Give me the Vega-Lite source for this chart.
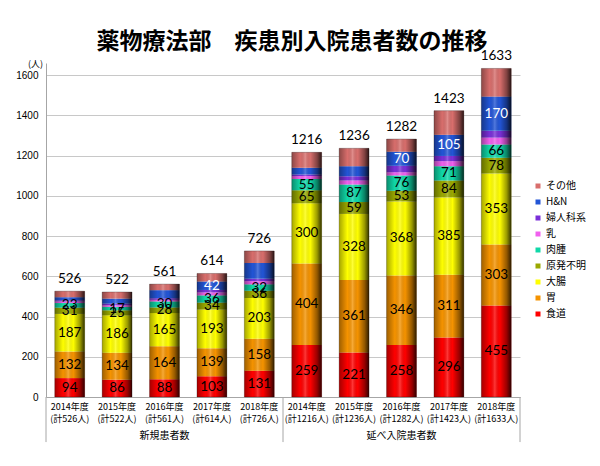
{
  "$schema": "https://vega.github.io/schema/vega-lite/v6.json",
  "autosize": "none",
  "width": 474,
  "height": 334,
  "padding": {"left": 46, "top": 63, "right": 80, "bottom": 69},
  "background": "white",
  "title": {"text": "薬物療法部　疾患別入院患者数の推移", "font": "Noto Sans CJK JP", "fontSize": 23, "fontWeight": "bold", "anchor": "middle", "dx": 9, "offset": -5, "color": "black"},
  "config": {"view": {"stroke": null}, "font": "Noto Sans CJK JP"},
  "data": {"values": [
    {"cat": "2014年度|(計526人)", "s": "食道", "o": 1, "v": 94, "lab": true},
    {"cat": "2014年度|(計526人)", "s": "胃", "o": 2, "v": 132, "lab": true},
    {"cat": "2014年度|(計526人)", "s": "大腸", "o": 3, "v": 187, "lab": true},
    {"cat": "2014年度|(計526人)", "s": "原発不明", "o": 4, "v": 31, "lab": true},
    {"cat": "2014年度|(計526人)", "s": "肉腫", "o": 5, "v": 23, "lab": true},
    {"cat": "2014年度|(計526人)", "s": "乳", "o": 6, "v": 8, "lab": false},
    {"cat": "2014年度|(計526人)", "s": "婦人科系", "o": 7, "v": 6, "lab": false},
    {"cat": "2014年度|(計526人)", "s": "H&N", "o": 8, "v": 15, "lab": false},
    {"cat": "2014年度|(計526人)", "s": "その他", "o": 9, "v": 30, "lab": false},
    {"cat": "2015年度|(計522人)", "s": "食道", "o": 1, "v": 86, "lab": true},
    {"cat": "2015年度|(計522人)", "s": "胃", "o": 2, "v": 134, "lab": true},
    {"cat": "2015年度|(計522人)", "s": "大腸", "o": 3, "v": 186, "lab": true},
    {"cat": "2015年度|(計522人)", "s": "原発不明", "o": 4, "v": 25, "lab": true},
    {"cat": "2015年度|(計522人)", "s": "肉腫", "o": 5, "v": 17, "lab": true},
    {"cat": "2015年度|(計522人)", "s": "乳", "o": 6, "v": 8, "lab": false},
    {"cat": "2015年度|(計522人)", "s": "婦人科系", "o": 7, "v": 8, "lab": false},
    {"cat": "2015年度|(計522人)", "s": "H&N", "o": 8, "v": 25, "lab": false},
    {"cat": "2015年度|(計522人)", "s": "その他", "o": 9, "v": 33, "lab": false},
    {"cat": "2016年度|(計561人)", "s": "食道", "o": 1, "v": 88, "lab": true},
    {"cat": "2016年度|(計561人)", "s": "胃", "o": 2, "v": 164, "lab": true},
    {"cat": "2016年度|(計561人)", "s": "大腸", "o": 3, "v": 165, "lab": true},
    {"cat": "2016年度|(計561人)", "s": "原発不明", "o": 4, "v": 28, "lab": true},
    {"cat": "2016年度|(計561人)", "s": "肉腫", "o": 5, "v": 30, "lab": true},
    {"cat": "2016年度|(計561人)", "s": "乳", "o": 6, "v": 8, "lab": false},
    {"cat": "2016年度|(計561人)", "s": "婦人科系", "o": 7, "v": 8, "lab": false},
    {"cat": "2016年度|(計561人)", "s": "H&N", "o": 8, "v": 40, "lab": false},
    {"cat": "2016年度|(計561人)", "s": "その他", "o": 9, "v": 30, "lab": false},
    {"cat": "2017年度|(計614人)", "s": "食道", "o": 1, "v": 103, "lab": true},
    {"cat": "2017年度|(計614人)", "s": "胃", "o": 2, "v": 139, "lab": true},
    {"cat": "2017年度|(計614人)", "s": "大腸", "o": 3, "v": 193, "lab": true},
    {"cat": "2017年度|(計614人)", "s": "原発不明", "o": 4, "v": 34, "lab": true},
    {"cat": "2017年度|(計614人)", "s": "肉腫", "o": 5, "v": 36, "lab": true},
    {"cat": "2017年度|(計614人)", "s": "乳", "o": 6, "v": 15, "lab": false},
    {"cat": "2017年度|(計614人)", "s": "婦人科系", "o": 7, "v": 12, "lab": false},
    {"cat": "2017年度|(計614人)", "s": "H&N", "o": 8, "v": 42, "lab": true},
    {"cat": "2017年度|(計614人)", "s": "その他", "o": 9, "v": 40, "lab": false},
    {"cat": "2018年度|(計726人)", "s": "食道", "o": 1, "v": 131, "lab": true},
    {"cat": "2018年度|(計726人)", "s": "胃", "o": 2, "v": 158, "lab": true},
    {"cat": "2018年度|(計726人)", "s": "大腸", "o": 3, "v": 203, "lab": true},
    {"cat": "2018年度|(計726人)", "s": "原発不明", "o": 4, "v": 36, "lab": true},
    {"cat": "2018年度|(計726人)", "s": "肉腫", "o": 5, "v": 32, "lab": true},
    {"cat": "2018年度|(計726人)", "s": "乳", "o": 6, "v": 16, "lab": false},
    {"cat": "2018年度|(計726人)", "s": "婦人科系", "o": 7, "v": 12, "lab": false},
    {"cat": "2018年度|(計726人)", "s": "H&N", "o": 8, "v": 78, "lab": false},
    {"cat": "2018年度|(計726人)", "s": "その他", "o": 9, "v": 60, "lab": false},
    {"cat": "2014年度|(計1216人)", "s": "食道", "o": 1, "v": 259, "lab": true},
    {"cat": "2014年度|(計1216人)", "s": "胃", "o": 2, "v": 404, "lab": true},
    {"cat": "2014年度|(計1216人)", "s": "大腸", "o": 3, "v": 300, "lab": true},
    {"cat": "2014年度|(計1216人)", "s": "原発不明", "o": 4, "v": 65, "lab": true},
    {"cat": "2014年度|(計1216人)", "s": "肉腫", "o": 5, "v": 55, "lab": true},
    {"cat": "2014年度|(計1216人)", "s": "乳", "o": 6, "v": 15, "lab": false},
    {"cat": "2014年度|(計1216人)", "s": "婦人科系", "o": 7, "v": 8, "lab": false},
    {"cat": "2014年度|(計1216人)", "s": "H&N", "o": 8, "v": 33, "lab": false},
    {"cat": "2014年度|(計1216人)", "s": "その他", "o": 9, "v": 77, "lab": false},
    {"cat": "2015年度|(計1236人)", "s": "食道", "o": 1, "v": 221, "lab": true},
    {"cat": "2015年度|(計1236人)", "s": "胃", "o": 2, "v": 361, "lab": true},
    {"cat": "2015年度|(計1236人)", "s": "大腸", "o": 3, "v": 328, "lab": true},
    {"cat": "2015年度|(計1236人)", "s": "原発不明", "o": 4, "v": 59, "lab": true},
    {"cat": "2015年度|(計1236人)", "s": "肉腫", "o": 5, "v": 87, "lab": true},
    {"cat": "2015年度|(計1236人)", "s": "乳", "o": 6, "v": 20, "lab": false},
    {"cat": "2015年度|(計1236人)", "s": "婦人科系", "o": 7, "v": 21, "lab": false},
    {"cat": "2015年度|(計1236人)", "s": "H&N", "o": 8, "v": 50, "lab": false},
    {"cat": "2015年度|(計1236人)", "s": "その他", "o": 9, "v": 89, "lab": false},
    {"cat": "2016年度|(計1282人)", "s": "食道", "o": 1, "v": 258, "lab": true},
    {"cat": "2016年度|(計1282人)", "s": "胃", "o": 2, "v": 346, "lab": true},
    {"cat": "2016年度|(計1282人)", "s": "大腸", "o": 3, "v": 368, "lab": true},
    {"cat": "2016年度|(計1282人)", "s": "原発不明", "o": 4, "v": 53, "lab": true},
    {"cat": "2016年度|(計1282人)", "s": "肉腫", "o": 5, "v": 76, "lab": true},
    {"cat": "2016年度|(計1282人)", "s": "乳", "o": 6, "v": 16, "lab": false},
    {"cat": "2016年度|(計1282人)", "s": "婦人科系", "o": 7, "v": 32, "lab": false},
    {"cat": "2016年度|(計1282人)", "s": "H&N", "o": 8, "v": 70, "lab": true},
    {"cat": "2016年度|(計1282人)", "s": "その他", "o": 9, "v": 63, "lab": false},
    {"cat": "2017年度|(計1423人)", "s": "食道", "o": 1, "v": 296, "lab": true},
    {"cat": "2017年度|(計1423人)", "s": "胃", "o": 2, "v": 311, "lab": true},
    {"cat": "2017年度|(計1423人)", "s": "大腸", "o": 3, "v": 385, "lab": true},
    {"cat": "2017年度|(計1423人)", "s": "原発不明", "o": 4, "v": 84, "lab": true},
    {"cat": "2017年度|(計1423人)", "s": "肉腫", "o": 5, "v": 71, "lab": true},
    {"cat": "2017年度|(計1423人)", "s": "乳", "o": 6, "v": 25, "lab": false},
    {"cat": "2017年度|(計1423人)", "s": "婦人科系", "o": 7, "v": 26, "lab": false},
    {"cat": "2017年度|(計1423人)", "s": "H&N", "o": 8, "v": 105, "lab": true},
    {"cat": "2017年度|(計1423人)", "s": "その他", "o": 9, "v": 120, "lab": false},
    {"cat": "2018年度|(計1633人)", "s": "食道", "o": 1, "v": 455, "lab": true},
    {"cat": "2018年度|(計1633人)", "s": "胃", "o": 2, "v": 303, "lab": true},
    {"cat": "2018年度|(計1633人)", "s": "大腸", "o": 3, "v": 353, "lab": true},
    {"cat": "2018年度|(計1633人)", "s": "原発不明", "o": 4, "v": 78, "lab": true},
    {"cat": "2018年度|(計1633人)", "s": "肉腫", "o": 5, "v": 66, "lab": true},
    {"cat": "2018年度|(計1633人)", "s": "乳", "o": 6, "v": 34, "lab": false},
    {"cat": "2018年度|(計1633人)", "s": "婦人科系", "o": 7, "v": 34, "lab": false},
    {"cat": "2018年度|(計1633人)", "s": "H&N", "o": 8, "v": 170, "lab": true},
    {"cat": "2018年度|(計1633人)", "s": "その他", "o": 9, "v": 140, "lab": false}
  ]},
  "encoding": {
    "x": {
      "field": "cat", "type": "nominal",
      "scale": {
        "domain": ["2014年度|(計526人)", "2015年度|(計522人)", "2016年度|(計561人)", "2017年度|(計614人)", "2018年度|(計726人)", "2014年度|(計1216人)", "2015年度|(計1236人)", "2016年度|(計1282人)", "2017年度|(計1423人)", "2018年度|(計1633人)"],
        "paddingInner": 0, "paddingOuter": 0
      },
      "axis": {
        "title": null, "labelAngle": 0, "labelExpr": "split(datum.value, '|')",
        "labelFont": "Noto Sans CJK JP", "labelFontSize": 9, "labelLineHeight": 12, "labelColor": "black",
        "labelPadding": 5, "ticks": false, "domainColor": "#A6A6A6", "domainWidth": 1, "grid": false
      }
    }
  },
  "layer": [
    {
      "mark": {"type": "bar", "width": {"band": 0.63}},
      "encoding": {
        "y": {
          "field": "v", "type": "quantitative", "stack": "zero",
          "scale": {"domain": [0, 1660], "nice": false},
          "axis": {
            "title": "(人)", "titleAngle": 0, "titleX": -11, "titleY": 0, "titleAlign": "center", "titleBaseline": "middle",
            "titleFontSize": 9, "titleFontWeight": "normal", "titleFont": "Noto Sans CJK JP", "titleColor": "black",
            "values": [0, 200, 400, 600, 800, 1000, 1200, 1400, 1600], "format": "d",
            "labelFont": "Liberation Sans", "labelFontSize": 10, "labelColor": "black", "labelPadding": 8,
            "ticks": false, "domainColor": "#A6A6A6", "gridColor": "#C8C8C8", "grid": true
          }
        },
        "color": {
          "field": "s", "type": "nominal",
          "scale": {
            "domain": ["その他", "H&N", "婦人科系", "乳", "肉腫", "原発不明", "大腸", "胃", "食道"],
            "range": ["#D86E6C", "#2255D6", "#7A2FD8", "#F060EE", "#10D8A8", "#9AA800", "#FFFF00", "#F59300", "#FF0000"]
          },
          "legend": {
            "title": null, "orient": "none", "legendX": 487, "legendY": 118,
            "symbolType": "square", "symbolSize": 25, "symbolStrokeWidth": 0,
            "labelFont": "Noto Sans CJK JP", "labelFontSize": 10, "labelColor": "black", "rowPadding": 6, "labelOffset": 3
          }
        },
        "order": {"field": "o", "type": "quantitative", "sort": "ascending"}
      }
    },
    {
      "mark": {
        "type": "bar", "width": {"band": 0.63},
        "color": {"gradient": "linear", "x1": 0, "x2": 1, "y1": 0, "y2": 0, "stops": [
          {"offset": 0, "color": "rgba(0,0,0,0.35)"},
          {"offset": 0.28, "color": "rgba(0,0,0,0)"},
          {"offset": 0.45, "color": "rgba(255,255,255,0.22)"},
          {"offset": 0.62, "color": "rgba(0,0,0,0)"},
          {"offset": 0.85, "color": "rgba(0,0,0,0.4)"},
          {"offset": 1, "color": "rgba(0,0,0,0.8)"}
        ]},
        "stroke": "rgba(0,0,0,0.5)", "strokeWidth": 0.5
      },
      "encoding": {
        "y": {"aggregate": "sum", "field": "v", "type": "quantitative"}
      }
    },
    {
      "mark": {"type": "text", "font": "Lato", "fontSize": 13.5, "baseline": "middle"},
      "encoding": {
        "y": {"field": "v", "type": "quantitative", "stack": "zero", "bandPosition": 0.5},
        "order": {"field": "o", "type": "quantitative", "sort": "ascending"},
        "text": {"condition": {"test": "datum.lab", "field": "v", "type": "quantitative"}, "value": ""},
        "color": {"condition": {"test": "datum.s === 'H&N'", "value": "white"}, "value": "black"}
      }
    },
    {
      "mark": {"type": "text", "font": "Lato", "fontSize": 13.5, "baseline": "bottom", "dy": -5, "color": "black"},
      "encoding": {
        "y": {"aggregate": "sum", "field": "v", "type": "quantitative"},
        "text": {"aggregate": "sum", "field": "v", "type": "quantitative"}
      }
    },
    {
      "data": {"values": [{"cat": "2014年度|(計526人)"}, {"cat": "2014年度|(計1216人)"}]},
      "mark": {"type": "rule", "color": "#A6A6A6", "strokeWidth": 1},
      "encoding": {
        "x": {"field": "cat", "type": "nominal", "bandPosition": 0},
        "y": {"datum": 0},
        "y2": {"datum": -224}
      }
    },
    {
      "data": {"values": [{"cat": "2018年度|(計1633人)"}]},
      "mark": {"type": "rule", "color": "#A6A6A6", "strokeWidth": 1},
      "encoding": {
        "x": {"field": "cat", "type": "nominal", "bandPosition": 1},
        "y": {"datum": 0},
        "y2": {"datum": -224}
      }
    },
    {
      "data": {"values": [{"cat": "2016年度|(計561人)", "g": "新規患者数"}, {"cat": "2016年度|(計1282人)", "g": "延べ入院患者数"}]},
      "mark": {"type": "text", "font": "Noto Sans CJK JP", "fontSize": 10, "baseline": "middle", "color": "black"},
      "encoding": {
        "text": {"field": "g"},
        "y": {"datum": -194}
      }
    }
  ]
}
